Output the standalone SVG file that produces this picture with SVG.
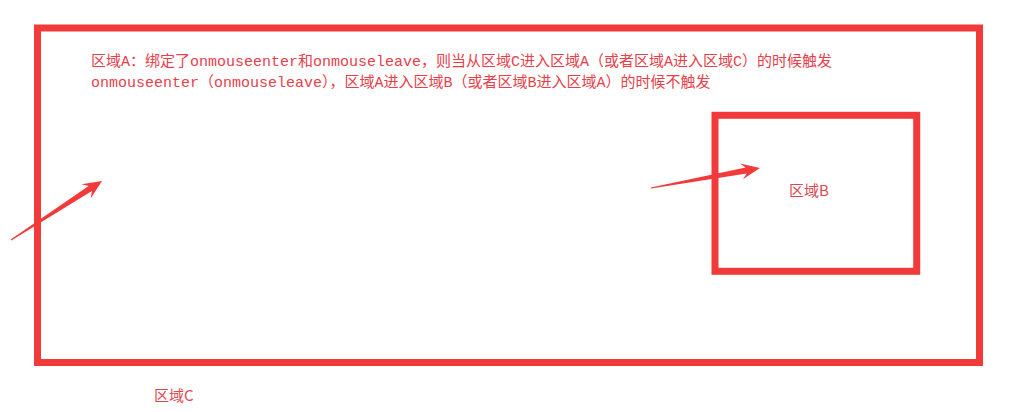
<svg xmlns="http://www.w3.org/2000/svg" width="1031" height="412" viewBox="0 0 1031 412">
<style>
.box{fill:none;stroke:#f23a3a;stroke-width:7}
.t{font-family:"Liberation Mono","Noto Sans CJK SC",monospace;font-size:15px;fill:#e8404a}
.c{font-family:"Noto Sans CJK SC","Liberation Sans",sans-serif;font-size:15px;fill:#e04850}
.arrow{fill:#f23a3a;stroke:none}
</style>
<rect x="0" y="0" width="1031" height="412" fill="#ffffff"/>
<g id="regionA">
<rect class="box" x="37.5" y="28" width="942" height="334.5"/>
<text class="t" x="91" y="66">区域A：绑定了onmouseenter和onmouseleave，则当从区域C进入区域A（或者区域A进入区域C）的时候触发</text>
<text class="t" x="91" y="87">onmouseenter（onmouseleave），区域A进入区域B（或者区域B进入区域A）的时候不触发</text>
</g>
<g id="regionB">
<rect class="box" x="715" y="115.3" width="201.7" height="156"/>
<text class="c" x="789" y="196">区域B</text>
</g>
<g id="regionC">
<text class="c" x="154" y="401">区域C</text>
</g>
<g id="connectors">
<polygon class="arrow" transform="translate(11,240) rotate(-33)" points="0,-0.6 94.5,-3 89.5,-8.5 108.5,0 89.5,8.5 94.5,3 0,0.6"/>
<polygon class="arrow" transform="translate(651,188) rotate(-10.4)" points="0,-0.6 96.8,-3 92,-8 110.8,0 92,8 96.8,3 0,0.6"/>
</g>
</svg>
